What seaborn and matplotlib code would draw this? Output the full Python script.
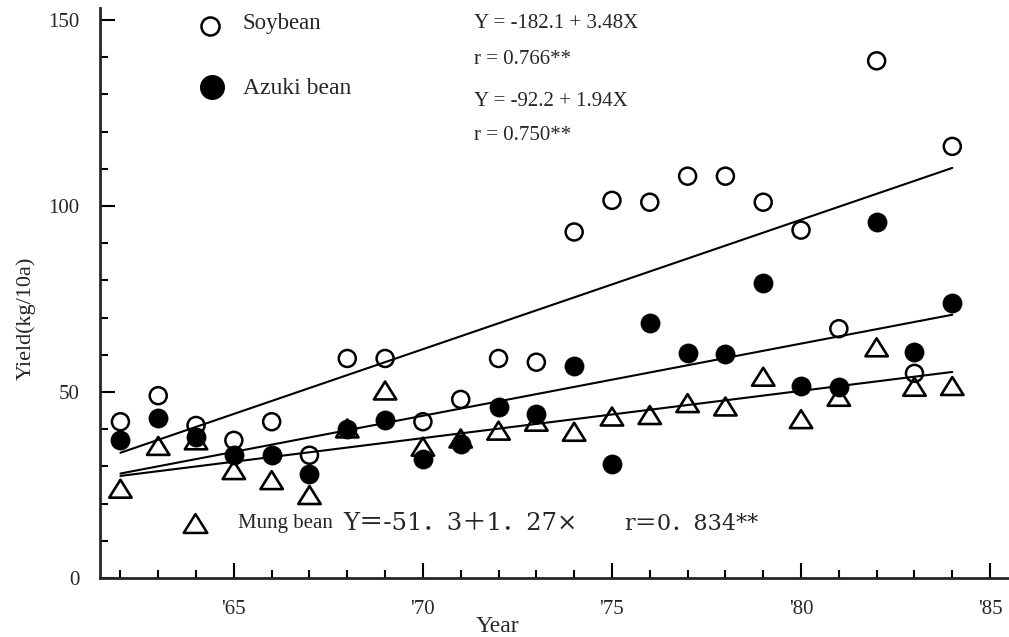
#!/usr/bin/env python3

import numpy as np
import pandas as pd
import seaborn as sns
import matplotlib.pyplot as plt
from matplotlib.path import Path as MPath

# -----------------------------------------------------------------------------
# Data
# -----------------------------------------------------------------------------

years = [1962, 1963, 1964, 1965, 1966, 1967, 1968, 1969, 1970, 1971, 1972, 1973,
         1974, 1975, 1976, 1977, 1978, 1979, 1980, 1981, 1982, 1983, 1984]

soybean = [42, 49, 41, 37, 42, 33, 59, 59, 42, 48, 59, 58,
           93, 101.5, 101, 108, 108, 101, 93.5, 67, 139, 55, 116]

azuki = [37, 43, 38, 33, 33, 28, 40, 42.5, 32, 36, 46, 44,
         57, 30.6, 68.6, 60.4, 60.1, 79.2, 51.6, 51.4, 95.8, 60.8, 73.8]

mung = [24, 35.5, 37, 29, 26.3, 22.3, 40.2, 50.4, 35.3, 37.5, 39.6, 42,
        39.3, 43.4, 43.8, 47, 46.1, 54.1, 42.7, 48.7, 62, 51.4, 51.6]

# printed regression equations, X = year - 1900
crops = ["Soybean", "Azuki bean", "Mung bean"]
intercepts = [-182.1, -92.2, -51.3]
slopes = [3.48, 1.94, 1.27]

xtick_years = [1965, 1970, 1975, 1980, 1985]
xtick_labels = ["'65", "'70", "'75", "'80", "'85"]
ytick_values = [0, 50, 100, 150]

# -----------------------------------------------------------------------------
# Plot
# -----------------------------------------------------------------------------

def main():
    sns.set_theme(style="ticks")
    plt.rcParams["font.family"] = ["Liberation Serif", "DejaVu Serif"]
    wide = ["DejaVu Serif", "Noto Sans CJK JP"]

    fig = plt.figure(figsize=(10.09, 6.37), dpi=100)
    ax = fig.add_axes([100 / 1009, 59 / 637, 909 / 1009, 570 / 637])

    df = pd.DataFrame({"year": years, "soybean": soybean,
                       "azuki": azuki, "mung": mung})

    # regression lines from the printed equations
    for a, b in zip(intercepts, slopes):
        x_end = np.array([years[0], years[-1]])
        sns.lineplot(x=x_end, y=a + b * (x_end - 1900), color="black",
                     linewidth=1.5, ax=ax)

    tri = MPath([(-1, -0.8), (1, -0.8), (0, 0.8), (-1, -0.8)],
                [MPath.MOVETO, MPath.LINETO, MPath.LINETO, MPath.CLOSEPOLY])

    sns.scatterplot(data=df, x="year", y="mung", marker=tri, s=260,
                    facecolor="none", edgecolor="black", linewidth=1.9, ax=ax)
    sns.scatterplot(data=df, x="year", y="azuki", marker="o", s=190,
                    color="black", edgecolor="black", linewidth=0.5, ax=ax)
    sns.scatterplot(data=df, x="year", y="soybean", marker="o", s=150,
                    facecolor="none", edgecolor="black", linewidth=1.8, ax=ax)

    # axes
    ax.set_xlim(1961.46, 1985.5)
    ax.set_ylim(0, 153.2)
    sns.despine(ax=ax)
    for side in ["left", "bottom"]:
        ax.spines[side].set_linewidth(2)
    ax.set_xticks(xtick_years)
    ax.set_xticklabels(xtick_labels)
    ax.set_xticks(years, minor=True)
    ax.set_yticks(ytick_values)
    ax.set_yticks(range(0, 151, 10), minor=True)
    ax.tick_params(which="major", direction="in", length=11, width=1.5,
                   labelsize=15, color="black")
    ax.tick_params(which="minor", direction="in", length=6, width=1.5,
                   color="black")
    ax.tick_params(axis="x", which="major", pad=16)
    ax.tick_params(axis="y", which="major", pad=15, labelsize=15)
    ax.set_xlabel("")
    ax.set_ylabel("Yield(kg/10a)", fontsize=16)
    ax.yaxis.set_label_coords(-0.071, 0.456)
    fig.text(497 / 1009, 1 - 626 / 637, "Year", ha="center", va="center",
             fontsize=17)

    # key and equations
    ax.plot([1964.37], [148.4], marker="o", ms=13, mfc="none", mec="black",
            mew=1.8, clip_on=False)
    ax.plot([1964.43], [131.9], marker="o", ms=17, color="black", clip_on=False)
    ax.plot([1963.97], [14.8], marker=tri, ms=17, mfc="none", mec="black",
            mew=1.8, clip_on=False)

    ax.text(1965.24, 148.9, crops[0], fontsize=16.5, va="center")
    ax.text(1965.24, 131.6, crops[1], fontsize=17, va="center")
    ax.text(1971.34, 149.0, "Y = -182.1 + 3.48X", fontsize=15, va="center")
    ax.text(1971.34, 139.4, "r = 0.766**", fontsize=15, va="center")
    ax.text(1971.34, 128.2, "Y = -92.2 + 1.94X", fontsize=15, va="center")
    ax.text(1971.34, 118.9, "r = 0.750**", fontsize=15, va="center")

    ax.text(1965.11, 14.6, crops[2], fontsize=15, va="center")
    ax.text(1967.88, 14.6, "Y\uff1d-51\uff0e3\uff0b1\uff0e27\u00d7",
            fontsize=17.5, va="center", family=wide)
    ax.text(1975.33, 14.6, "r\uff1d0\uff0e834**", fontsize=16,
            va="center", family=wide)

    fig.savefig("out.png", dpi=100)
    plt.close(fig)


if __name__ == "__main__":
    main()
